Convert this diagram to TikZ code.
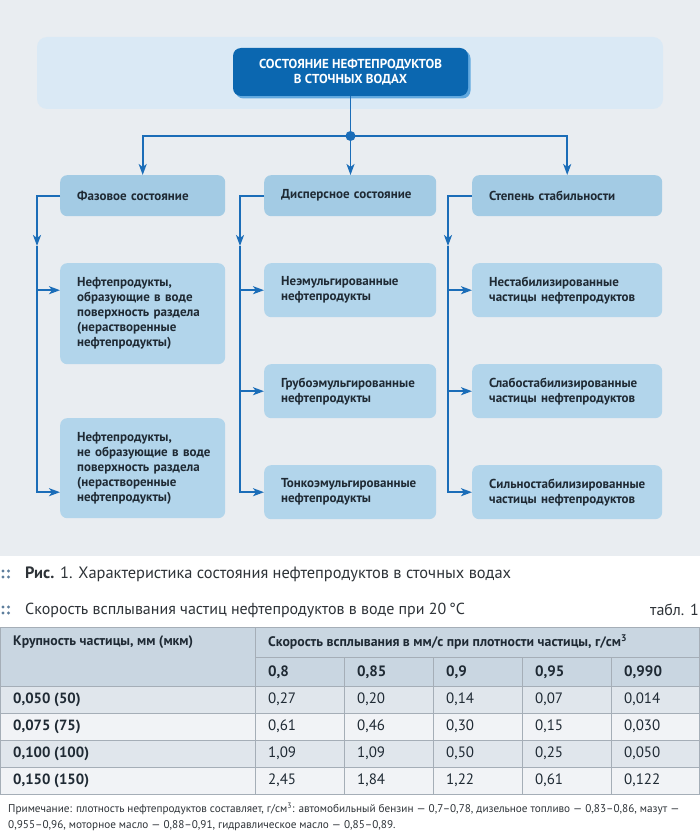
\documentclass[tikz,border=0pt]{standalone}
\usepackage{fontspec}
\setmainfont{PT Sans}
\usetikzlibrary{arrows.meta,positioning,shadows}

\definecolor{bggrey}{HTML}{E9EDF1}
\definecolor{band}{HTML}{DAE9F5}
\definecolor{navy}{HTML}{0B67B0}
\definecolor{navyshade}{HTML}{62A9DF}
\definecolor{boxcat}{HTML}{A3CBE4}
\definecolor{boxsub}{HTML}{B2D5EB}
\definecolor{lineblue}{HTML}{1B6DB8}
\definecolor{textdark}{HTML}{1F2A34}
\definecolor{textgrey}{HTML}{2E3338}
\definecolor{dotgrey}{HTML}{5E7E9C}
\definecolor{headcell}{HTML}{C9D6E1}
\definecolor{rowgrey}{HTML}{E0E6EC}
\definecolor{rowlight}{HTML}{F1F3F6}
\definecolor{gridgrey}{HTML}{A5AEB7}

\tikzset{
  link/.style={draw=lineblue, line width=1.8pt},
  arr/.style={link, -{Stealth[length=11pt,width=8pt,inset=3pt]}},
  topbox/.style={fill=navy, text=white, rounded corners=8pt, align=center,
    minimum width=235pt, minimum height=48pt, inner sep=0pt,
    font=\bfseries\fontsize{13}{15}\selectfont,
    drop shadow={shadow xshift=2.5pt, shadow yshift=-2.5pt, fill=navyshade, opacity=1}},
  catbox/.style={fill=boxcat, rounded corners=7pt, inner xsep=17pt, inner ysep=0pt,
    anchor=north west, align=left, text=textdark,
    font=\bfseries\fontsize{13}{15}\selectfont},
  subbox/.style={catbox, fill=boxsub},
  cellhead/.style={anchor=west, inner sep=0pt, text=textdark,
    font=\bfseries\fontsize{13.8}{16}\selectfont},
  cell/.style={anchor=west, inner sep=0pt, text=textdark,
    font=\fontsize{15}{17}\selectfont},
}

\begin{document}
\begin{tikzpicture}[x=1pt,y=-1pt]
  \useasboundingbox (0,0) rectangle (700,832);
  \fill[white] (0,0) rectangle (700,832);

  % figure area
  \fill[bggrey] (0,0) rectangle (700,556);
  \fill[band, rounded corners=10pt] (37,37) rectangle (663,109);

  \node[topbox] (top) at (350.5,72) {СОСТОЯНИЕ НЕФТЕПРОДУКТОВ\\В СТОЧНЫХ ВОДАХ};

  \node[catbox, text width=131pt, minimum height=41pt] (phase) at (60,175) {Фазовое состояние};
  \node[catbox, text width=138pt, minimum height=41pt] (disp) at (264,175) {Дисперсное состояние};
  \node[catbox, text width=156pt, minimum height=41pt] (stab) at (472,175) {Степень стабильности};

  \node[subbox, text width=131pt, minimum height=101pt] (ph1) at (60,263)
    {Нефтепродукты,\\\mbox{образующие в воде}\\\mbox{поверхность раздела}\\(нерастворенные\\нефтепродукты)};
  \node[subbox, text width=131pt, minimum height=100pt] (ph2) at (60,418)
    {Нефтепродукты,\\\mbox{не образующие в воде}\\\mbox{поверхность раздела}\\(нерастворенные\\нефтепродукты)};

  \node[subbox, text width=138pt, minimum height=54pt] (d1) at (264,263) {Неэмульгированные\\нефтепродукты};
  \node[subbox, text width=138pt, minimum height=54pt] (d2) at (264,364) {Грубоэмульгированные\\нефтепродукты};
  \node[subbox, text width=138pt, minimum height=54pt] (d3) at (264,465) {Тонкоэмульгированные\\нефтепродукты};

  \node[subbox, text width=156pt, minimum height=54pt] (s1) at (472,263) {Нестабилизированные\\\mbox{частицы нефтепродуктов}};
  \node[subbox, text width=156pt, minimum height=54pt] (s2) at (472,364) {Слабостабилизированные\\\mbox{частицы нефтепродуктов}};
  \node[subbox, text width=156pt, minimum height=54pt] (s3) at (472,465) {Сильностабилизированные\\\mbox{частицы нефтепродуктов}};

  % connectors
  \coordinate (jn) at (350.5,136);
  \draw[link] (top.south) -- (jn);
  \draw[arr] (jn) -| (phase.north);
  \draw[arr] (jn) -- (jn |- disp.north);
  \draw[arr] (jn) -| (stab.north);
  \fill[lineblue] (jn) circle (5pt);

  \coordinate (tA) at (37,246);
  \draw[arr] (phase.west) -| (tA);
  \draw[arr] (tA) |- (ph2.west |- d3.west);
  \draw[arr] (tA |- d1.west) -- (ph1.west |- d1.west);

  \coordinate (tB) at (240,246);
  \draw[arr] (disp.west) -| (tB);
  \draw[arr] (tB) |- (d3.west);
  \draw[arr] (tB |- d1.west) -- (d1.west);
  \draw[arr] (tB |- d2.west) -- (d2.west);

  \coordinate (tC) at (448,246);
  \draw[arr] (stab.west) -| (tC);
  \draw[arr] (tC) |- (s3.west);
  \draw[arr] (tC |- s1.west) -- (s1.west);
  \draw[arr] (tC |- s2.west) -- (s2.west);

  % captions
  \foreach \yy in {574,610} {
    \fill[dotgrey] (3,\yy-3) circle (1.6pt) (8.5,\yy-3) circle (1.6pt)
                   (3,\yy+3) circle (1.6pt) (8.5,\yy+3) circle (1.6pt);
  }
  \node[anchor=west, inner sep=0pt, text=textgrey, font=\fontsize{16.4}{18}\selectfont] (figcap) at (25,574)
    {\textbf{Рис.} 1. Характеристика состояния нефтепродуктов в сточных водах};
  \node[anchor=west, inner sep=0pt, text=textgrey, font=\fontsize{16}{18}\selectfont] (tabcap) at (25,610)
    {Скорость всплывания частиц нефтепродуктов в воде при 20\,°C};
  \node[anchor=east, inner sep=0pt, text=textgrey, font=\fontsize{16}{18}\selectfont] (tabno) at (699,610) {табл. 1};

  % table
  \fill[headcell] (0,627) rectangle (700,686);
  \fill[rowgrey] (0,686) rectangle (700,713);
  \fill[rowlight] (0,713) rectangle (700,740);
  \fill[rowgrey] (0,740) rectangle (700,767);
  \fill[rowlight] (0,767) rectangle (700,794);
  \draw[gridgrey, line width=1pt] (0.5,627) rectangle (699.5,794);
  \draw[gridgrey, line width=1pt] (255,657) -- (700,657);
  \foreach \yy in {686,713,740,767} \draw[gridgrey, line width=1pt] (0,\yy) -- (700,\yy);
  \draw[gridgrey, line width=1pt] (255,627) -- (255,794);
  \foreach \xx in {344,433,522,611} \draw[gridgrey, line width=1pt] (\xx,657) -- (\xx,794);

  \node[cellhead] (hsize) at (13,642) {Крупность частицы, мм (мкм)};
  \node[cellhead] (hspeed) at (268,642) {Скорость всплывания в мм/с при плотности частицы, г/см\textsuperscript{3}};
  \foreach \xx/\v [count=\k] in {268/{0,8},357/{0,85},446/{0,9},535/{0,95},624/{0,990}}
    \node[cellhead, font=\bfseries\fontsize{15}{17}\selectfont] (dens\k) at (\xx,672) {\v};

  \foreach \yy/\s/\a/\b/\c/\d/\e [count=\r] in {
      699.5/{0,050 (50)}/{0,27}/{0,20}/{0,14}/{0,07}/{0,014},
      726.5/{0,075 (75)}/{0,61}/{0,46}/{0,30}/{0,15}/{0,030},
      753.5/{0,100 (100)}/{1,09}/{1,09}/{0,50}/{0,25}/{0,050},
      780.5/{0,150 (150)}/{2,45}/{1,84}/{1,22}/{0,61}/{0,122}} {
    \node[cellhead, font=\bfseries\fontsize{14.8}{17}\selectfont] (size\r) at (13,\yy) {\s};
    \node[cell] (v\r a) at (268,\yy) {\a};
    \node[cell] (v\r b) at (357,\yy) {\b};
    \node[cell] (v\r c) at (446,\yy) {\c};
    \node[cell] (v\r d) at (535,\yy) {\d};
    \node[cell] (v\r e) at (624,\yy) {\e};
  }

  % note
  \node[anchor=north west, inner sep=0pt, align=left, text=textgrey, font=\fontsize{11.2}{16}\selectfont] (note) at (8,803)
    {Примечание: плотность нефтепродуктов составляет, г/см\textsuperscript{3}: автомобильный бензин — 0,7–0,78, дизельное топливо — 0,83–0,86, мазут —\\
     0,955–0,96, моторное масло — 0,88–0,91, гидравлическое масло — 0,85–0,89.};
\end{tikzpicture}
\end{document}
